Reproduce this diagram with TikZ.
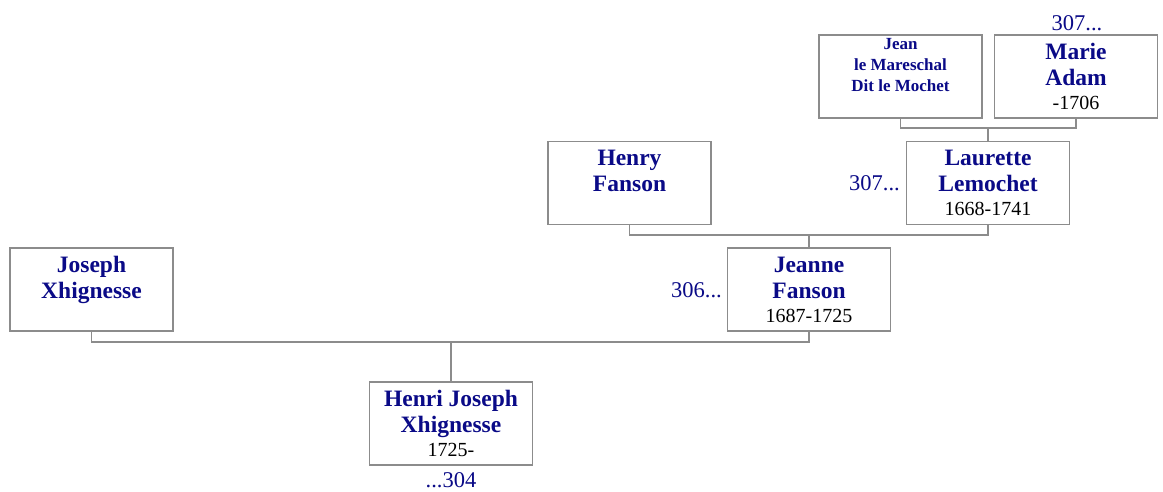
\documentclass[tikz,border=0pt]{standalone}
\usepackage{fontspec}
\setmainfont{Liberation Serif}
\definecolor{navytext}{RGB}{10,10,135}
\definecolor{linegray}{RGB}{140,140,140}
\newcommand{\famcard}[2]{\parbox[t][83pt][t]{163pt}{\centering\fontsize{23.5}{26}\selectfont\bfseries\color{navytext}\rule{0pt}{24pt}#1\par
  {\mdseries\color{black}\fontsize{20}{24}\selectfont #2\par}}}
\tikzset{
  card/.style={draw=linegray, line width=1.3pt, inner sep=0pt, outer sep=0pt, fill=white},
  conn/.style={draw=linegray, line width=1.3pt},
  numlabel/.style={text=navytext, font=\fontsize{22.5}{26}\selectfont, inner sep=0pt}
}
\begin{document}
\begin{tikzpicture}[x=1pt,y=-1pt]
\useasboundingbox[fill=white] (0,0) rectangle (1163,491);
% boxes
\node[card] (jm) at (900.5,76.5) {\parbox[t][83pt][t]{163pt}{\centering\fontsize{17}{21}\selectfont\bfseries\color{navytext}\rule{0pt}{14pt}Jean\\le Mareschal\\Dit le Mochet\par}};
\node[card] (ma) at (1076,76.5) {\famcard{Marie\\Adam}{-1706}};
\node[card] (ll) at (988,183) {\famcard{Laurette\\Lemochet}{1668-1741}};
\node[card] (hf) at (629.5,183) {\famcard{Henry\\Fanson}{}};
\node[card] (jf) at (809,289.5) {\famcard{Jeanne\\Fanson}{1687-1725}};
\node[card] (jx) at (91.5,289.5) {\famcard{Joseph\\Xhignesse}{}};
\node[card] (hx) at (451,423.5) {\famcard{Henri Joseph\\Xhignesse}{1725-}};
% connectors
\coordinate (c1) at (ll.north |- 0,128);
\coordinate (c2) at (jf.north |- 0,235);
\coordinate (c3) at (hx.north |- 0,342);
\draw[conn] (jm.south) |- (c1) -| (ma.south);
\draw[conn] (c1) -- (ll.north);
\draw[conn] (hf.south) |- (c2) -| (ll.south);
\draw[conn] (c2) -- (jf.north);
\draw[conn] (jx.south) |- (c3) -| (jf.south);
\draw[conn] (c3) -- (hx.north);
% number labels
\node[numlabel, anchor=base] (n1) at (1077,30) {307...};
\node[numlabel, anchor=base east] (n2) at (900,190) {307...};
\node[numlabel, anchor=base east] (n3) at (722,297) {306...};
\node[numlabel, anchor=base] (n4) at (451,487) {...304};
\end{tikzpicture}
\end{document}
